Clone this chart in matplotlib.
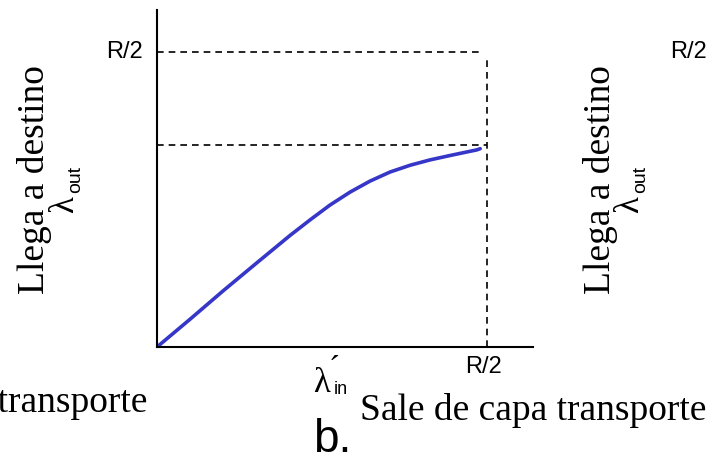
import matplotlib.pyplot as plt

# throughput curve, in units where R/2 = 1
lam_in = [0.0, 0.10, 0.20, 0.30, 0.403, 0.464, 0.524, 0.585, 0.645, 0.706,
          0.767, 0.827, 0.888, 0.969, 0.979]
lam_out = [0.0, 0.094, 0.19, 0.283, 0.378, 0.431, 0.481, 0.525, 0.562, 0.593,
           0.616, 0.634, 0.649, 0.668, 0.672]
r_half = 1.0
plateau = 0.685

W, H = 709, 457
fig = plt.figure(figsize=(W / 100, H / 100), dpi=100)


def fx(px):
    return px / W


def fy(py):
    return 1 - py / H


ax = fig.add_axes([fx(157), fy(347), (533 - 157) / W, (347 - 10) / H])
ax.set_xlim(0, 1.139)
ax.set_ylim(0, 1.142)
for s in ['top', 'right']:
    ax.spines[s].set_visible(False)
for s in ['left', 'bottom']:
    ax.spines[s].set_linewidth(1.5)
ax.set_xticks([])
ax.set_yticks([])

dash = dict(color='black', lw=1.2, ls=(0, (4, 3)))
ax.plot([0, 0.988], [r_half, r_half], **dash)
ax.plot([r_half, r_half], [0, 0.973], **dash)
ax.plot([0, r_half], [plateau, plateau], **dash)
ax.plot(lam_in, lam_out, color='#3636c8', lw=2.6, solid_capstyle='round',
        solid_joinstyle='round')

sans = 'Liberation Sans'
serif = 'Liberation Serif'

fig.text(fx(143), fy(52), 'R/2', family=sans, fontsize=17, ha='right', va='center')
fig.text(fx(483), fy(367), 'R/2', family=sans, fontsize=17, ha='center', va='center')
fig.text(fx(688), fy(52), 'R/2', family=sans, fontsize=17, ha='center', va='center')

# lambda'_in
fig.text(fx(322), fy(384), 'λ', family=serif, fontsize=25, ha='center', va='center')
fig.text(fx(334), fy(371), '´', family=serif, fontsize=24, ha='center', va='center')
fig.text(fx(341), fy(389), 'in', family=sans, fontsize=13, ha='center', va='center')

fig.text(fx(360), fy(420), 'Sale de capa transporte', family=serif, fontsize=27,
         ha='left', va='baseline')
fig.text(fx(147), fy(412), 'Sale de capa transporte', family=serif, fontsize=27,
         ha='right', va='baseline')
fig.text(fx(332), fy(440), 'b.', family=sans, fontsize=33, ha='center', va='center')

for dx in [0, 565]:
    fig.text(fx(35 + dx), fy(180), 'Llega a destino', family=serif, fontsize=27,
             rotation=90, ha='center', va='center')
    fig.text(fx(65 + dx), fy(205), 'λ', family=serif, fontsize=25,
             rotation=90, ha='center', va='center')
    fig.text(fx(76 + dx), fy(179), 'out', family=sans, fontsize=14,
             rotation=90, ha='center', va='center')

fig.savefig('out.png', dpi=100)
